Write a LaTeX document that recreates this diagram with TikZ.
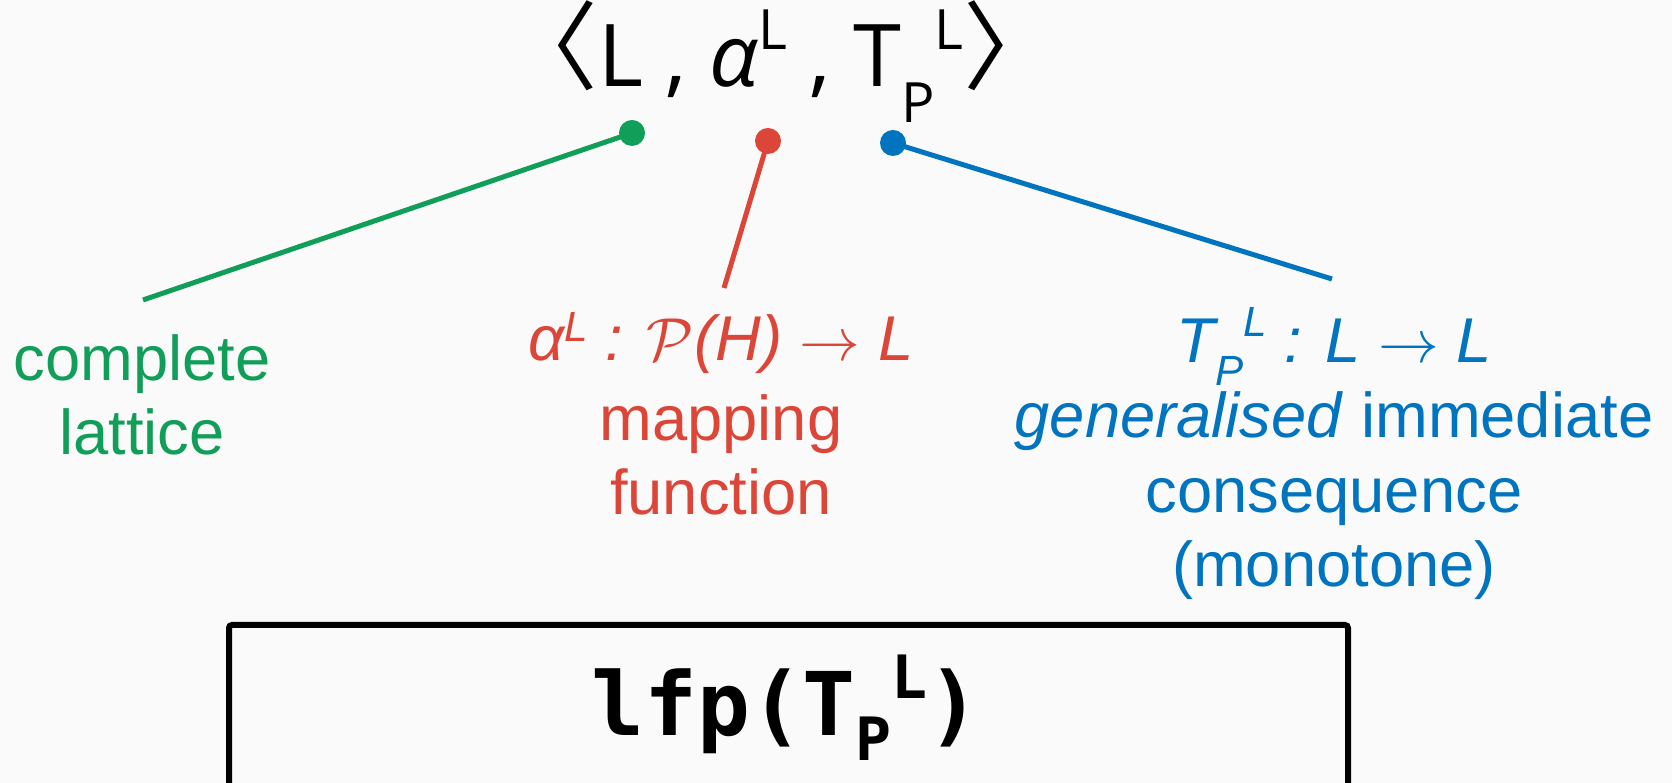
\documentclass[tikz,border=0pt]{standalone}
\usepackage{fontspec}
\setmainfont{Liberation Sans}
\newfontfamily\tuplefont{Open Sans}
\newfontfamily\anglefont{Noto Sans CJK SC}
\newfontfamily\codefont{DejaVu Sans Mono}
\usetikzlibrary{positioning}

\definecolor{latgreen}{RGB}{17,158,88}
\definecolor{mapred}{RGB}{220,70,56}
\definecolor{tpblue}{RGB}{0,116,190}
\definecolor{paper}{RGB}{250,250,250}

\newcommand{\shiftto}[3]{\raisebox{#1}{\fontsize{#2}{#2}\selectfont #3}}
\newcommand{\tupleangle}[1]{\shiftto{0.04cm}{27.5}{\anglefont #1}}

\begin{document}
\begin{tikzpicture}[x=0.01cm, y=-0.01cm,
  lbl/.style={anchor=base, align=center, font=\fontsize{18}{21.3}\selectfont},
  stick/.style={line width=0.05cm},
  knob/.style={radius=0.13cm}]

\useasboundingbox (0,0) rectangle (1672,783);
\fill[paper] (0,0) rectangle (1672,783);
\clip (0,0) rectangle (1672,783);

\node[anchor=base, font=\tuplefont\fontsize{24.6}{30}\selectfont] (tuple) at (781,87)
  {\tupleangle{〈}L , {\itshape α}\shiftto{0.37cm}{15.8}{L} , T\shiftto{-0.35cm}{15.8}{P}\shiftto{0.37cm}{15.8}{L}\tupleangle{〉}};

\coordinate (gdot) at (632,133);
\coordinate (rdot) at (768,141);
\coordinate (bdot) at (893,143);
\coordinate (gend) at (143,300);
\coordinate (rend) at (724,288);
\coordinate (bend) at (1332,279);

\draw[stick, latgreen] (gdot) -- (gend);
\draw[stick, mapred] (rdot) -- (rend);
\draw[stick, tpblue] (bdot) -- (bend);
\fill[latgreen] (gdot) circle[knob];
\fill[mapred] (rdot) circle[knob];
\fill[tpblue] (bdot) circle[knob];

% multi-line labels sit on the baseline of their last line
\node[lbl, text=latgreen] (lattice) at (142,455) {complete\\lattice};
\node[lbl, text=mapred] (mapping) at (721,515)
  {\textit{α\shiftto{0.19cm}{12}{L} : $\mathcal{P}$(H) $\rightarrow$ L}\\[0.05cm]mapping\\function};
\node[lbl, text=tpblue] (consequence) at (1334,587)
  {\textit{T\shiftto{-0.23cm}{12}{P}\shiftto{0.26cm}{12}{L} : L $\rightarrow$ L}\\\textit{generalised} immediate\\consequence\\(monotone)};

\draw[line width=0.06cm, rounded corners=0.03cm] (229,625) rectangle (1348,800);
\node[anchor=base, font=\codefont\bfseries\fontsize{25}{30}\selectfont] (lfp) at (786,736)
  {lfp(T\shiftto{-0.24cm}{17}{P}\shiftto{0.37cm}{17}{L})};

\end{tikzpicture}
\end{document}
